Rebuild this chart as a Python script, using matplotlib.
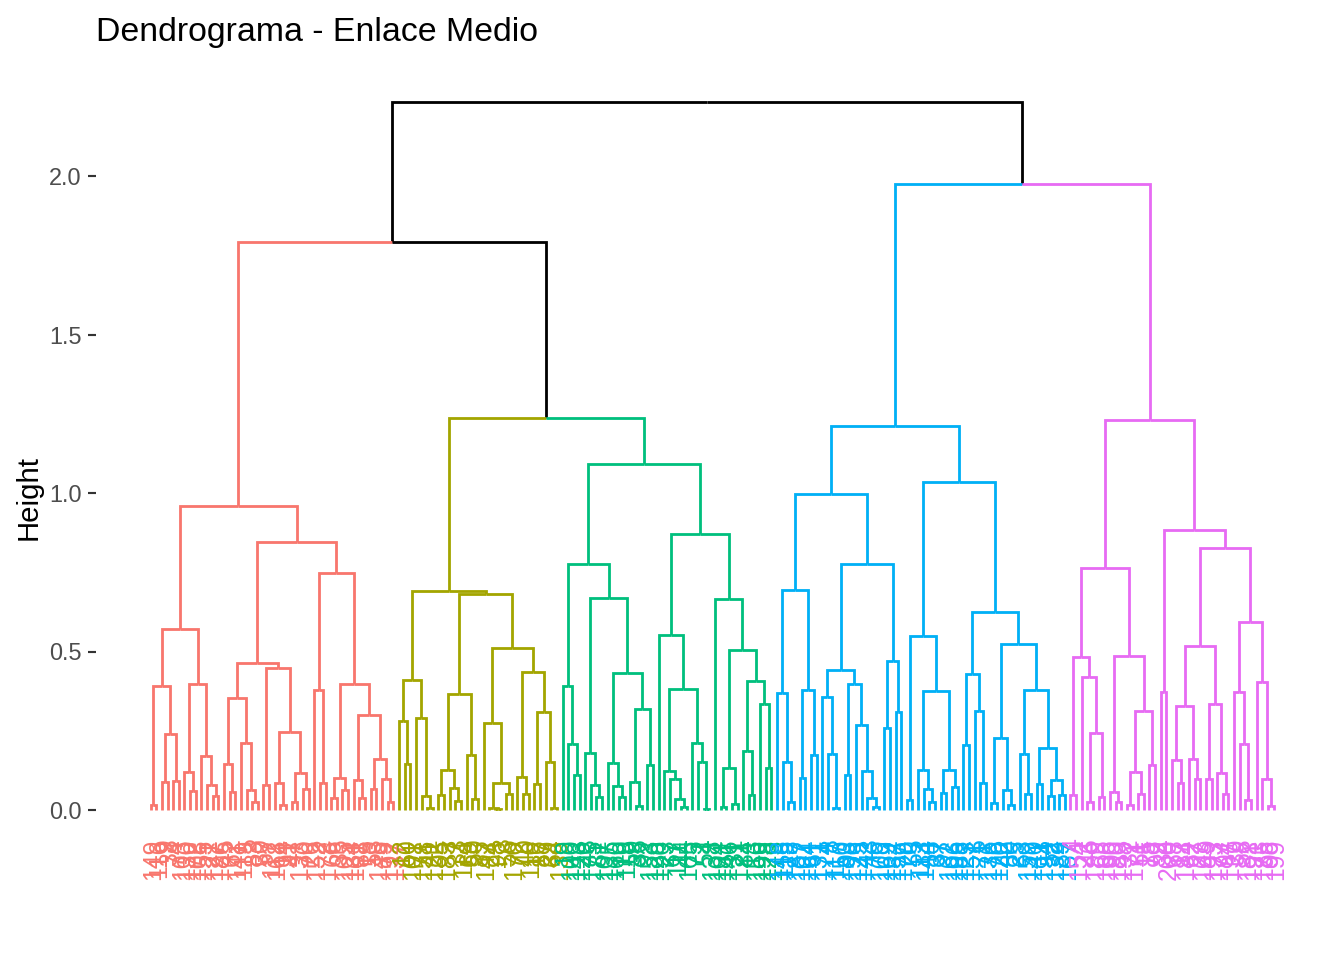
"""Dendrograma - Enlace Medio: alturas leídas del gráfico, etiquetas de hojas estimadas."""

import matplotlib.pyplot as plt

plt.rcParams['font.family'] = ['Liberation Sans', 'DejaVu Sans']

o = None  # una hoja

# Ramas de cada grupo: (altura, izquierda, derecha)
rojo_a = (.571,
          (.39, (.016, o, o), (.24, (.087, o, o), (.09, o, o))),
          (.396, (.119, o, (.059, o, o)), (.17, o, (.078, o, (.043, o, o)))))
rojo_b = (.463,
          (.352, (.144, o, (.056, o, o)), (.21, o, (.062, o, (.024, o, o)))),
          (.447, (.078, o, o), (.245, (.084, o, (.015, o, o)), (.116, (.024, o, o), (.065, o, o)))))
rojo_c = (.747,
          (.38, o, (.084, o, o)),
          (.396, (.10, (.037, o, o), (.062, o, o)),
           (.30, (.094, o, (.037, o, o)), (.16, (.065, o, o), (.097, o, (.024, o, o))))))
rojo = (.959, rojo_a, (.845, rojo_b, rojo_c))

oliva_a = (.41, (.282, o, (.144, o, o)), (.289, o, (.043, o, (.005, o, o))))
oliva_b = (.365, (.125, (.046, o, o), (.068, o, (.027, o, o))), (.172, o, (.034, o, o)))
oliva_c = (.51,
           (.273, o, (.084, (.005, o, (.002, o, o)), (.05, o, o))),
           (.434, (.103, o, (.05, o, o)), (.308, (.081, o, o), (.15, o, (.005, o, o)))))
oliva = (.692, oliva_a, (.682, oliva_b, oliva_c))

verde_a = (.39, o, (.207, o, (.109, o, o)))
verde_b = (.67,
           (.179, o, (.078, o, (.04, o, o))),
           (.431, (.147, o, (.075, o, (.04, o, o))), (.318, (.087, o, (.012, o, o)), (.141, o, o))))
verde_c = (.551, o,
           (.381, (.122, o, (.097, o, (.034, o, (.008, o, o)))), (.21, o, (.15, o, (.002, o, o)))))
verde_d = (.665, o,
           (.504, (.131, (.008, o, o), (.018, o, o)),
            (.406, (.185, o, (.046, o, o)), (.333, o, (.131, o, o)))))
verde = (1.092, (.776, verde_a, verde_b), (.871, verde_c, verde_d))

azul_a = (.694, (.368, o, (.15, o, (.024, o, o))), (.377, (.10, o, o), (.172, o, o)))
azul_b = (.441,
          (.358, o, (.176, o, (.005, o, o))),
          (.396, (.109, o, o), (.267, o, (.122, o, (.037, o, (.008, o, o))))))
azul_c = (.469, (.258, o, o), (.309, o, o))
azul_d = (.549, (.03, o, o),
          (.374, (.125, o, (.065, o, (.024, o, o))), (.125, (.053, o, o), (.071, o, o))))
azul_e = (.428, (.204, o, o), (.311, o, (.084, o, o)))
azul_f = (.523,
          (.226, (.021, o, o), (.062, o, (.015, o, o))),
          (.377, (.176, o, (.05, o, o)), (.195, (.081, o, o), (.094, (.043, o, o), (.046, o, o)))))
azul = (1.211, (.997, azul_a, (.776, azul_b, azul_c)), (1.035, azul_d, (.625, azul_e, azul_f)))

morado_a = (.482, (.046, o, o), (.42, o, (.242, (.024, o, o), (.04, o, o))))
morado_b = (.485, (.056, o, (.024, o, o)), (.311, (.119, (.015, o, o), (.05, o, o)), (.141, o, o)))
morado_c = (.371, o, o)
morado_d = (.516,
            (.327, (.157, o, (.084, o, o)), (.16, o, (.097, o, o))),
            (.333, (.097, o, o), (.116, o, (.05, o, o))))
morado_e = (.592, (.371, o, (.207, o, (.03, o, o))), (.403, o, (.097, o, (.012, o, o))))
morado = (1.23, (.763, morado_a, morado_b), (.883, morado_c, (.825, morado_d, morado_e)))

etiquetas_rojo = [149, 116, 9, 38, 74, 103, 130, 172, 108, 155, 21, 127, 186, 45, 62, 141, 119, 5, 83, 30, 57, 112,
                  168, 14, 91, 47, 133, 70, 26, 152, 2, 178, 66, 35, 105, 124, 161, 88, 18, 53, 145, 79, 192, 137]
etiquetas_oliva = [12, 60, 101, 77, 158, 41, 122, 95, 183, 7, 33, 114, 69, 50, 85, 147, 24, 98, 3, 56, 170, 72, 40,
                   110, 16, 87, 29, 64, 139]
etiquetas_verde = [19, 100, 143, 126, 48, 175, 81, 107, 135, 160, 10, 118, 59, 36, 92, 153, 129, 190, 23, 67, 111,
                   44, 165, 75, 1, 54, 138, 104, 181, 146, 31, 121, 84, 13, 156, 195, 128, 173]
etiquetas_azul = [148, 115, 28, 187, 102, 164, 61, 131, 174, 8, 117, 150, 93, 196, 125, 142, 43, 76, 109, 169, 134,
                  157, 179, 20, 55, 113, 144, 86, 37, 97, 162, 106, 188, 123, 151, 6, 71, 136, 176, 120, 42, 80, 25,
                  63, 159, 140, 11, 194, 52, 132, 89, 167]
etiquetas_morado = [4, 154, 22, 46, 189, 65, 166, 90, 180, 198, 32, 171, 51, 15, 78, 99, 34, 200, 68, 17, 184, 82,
                    27, 163, 49, 193, 177, 94, 197, 39, 58, 182, 191, 73, 185, 96, 199]

grupos = [(rojo, etiquetas_rojo, '#F8766D'),
          (oliva, etiquetas_oliva, '#A3A500'),
          (verde, etiquetas_verde, '#00BF7D'),
          (azul, etiquetas_azul, '#00B0F6'),
          (morado, etiquetas_morado, '#E76BF3')]

altura_raiz = 2.233
altura_izq = 1.792
altura_oliva_verde = 1.237
altura_der = 1.975

ANCHO, ALTO = 1344, 960
Y_MIN, Y_MAX = -0.395, 2.358

fig = plt.figure(figsize=(7, 5), dpi=192)
# panel colocado en píxeles: izquierda 96, derecha 1330, y=0 en 810, 317 px por unidad
ax = fig.add_axes([96 / ANCHO, (ALTO - 810 - 0.395 * 317) / ALTO, (1330 - 96) / ANCHO, (Y_MAX - Y_MIN) * 317 / ALTO])

hojas = []


def colocar(nodo, color, etiquetas):
    """Devuelve (x, altura, color, hijos) y numera las hojas de izquierda a derecha."""
    if nodo is None:
        x = len(hojas) + 1
        hojas.append((x, etiquetas[sum(1 for h in hojas if h[2] == color)], color))
        return (x, 0.0, color, [])
    izq = colocar(nodo[1], color, etiquetas)
    der = colocar(nodo[2], color, etiquetas)
    return ((izq[0] + der[0]) / 2, nodo[0], color, [izq, der])


def unir(altura, izq, der):
    # nodo por encima de los grupos: negro salvo sus dos tramos de grupo
    return ((izq[0] + der[0]) / 2, altura, 'black', [izq, der])


def dibujar(nodo):
    x, altura, _, hijos = nodo
    for hijo in hijos:
        ax.plot([x, hijo[0], hijo[0]], [altura, altura, hijo[1]], color=hijo[2], lw=1.05,
                solid_joinstyle='miter', solid_capstyle='butt', clip_on=False)
    for hijo in hijos:
        dibujar(hijo)


ramas = [colocar(g[0], g[2], g[1]) for g in grupos]
arbol = unir(altura_raiz,
             unir(altura_izq, ramas[0], unir(altura_oliva_verde, ramas[1], ramas[2])),
             unir(altura_der, ramas[3], ramas[4]))
dibujar(arbol)

for x, etiqueta, color in hojas:
    ax.text(x + 0.5, -0.09, str(etiqueta), rotation=90, ha='center', va='top', color=color, fontsize=9.3)

ax.set_xlim(-8.68, 209.99)
ax.set_ylim(Y_MIN, Y_MAX)
ax.set_xticks([])
ax.set_yticks([0, 0.5, 1.0, 1.5, 2.0], ['0.0', '0.5', '1.0', '1.5', '2.0'])
ax.tick_params(axis='y', length=3, width=0.8, color='#333333', labelcolor='#4D4D4D', labelsize=8.8, pad=2.5)
for lado in ax.spines.values():
    lado.set_visible(False)

fig.text(96 / ANCHO, 1 - 41 / ALTO, 'Dendrograma - Enlace Medio', fontsize=12.7, color='black', ha='left', va='baseline')
fig.text(28.5 / ANCHO, 1 - 497 / ALTO, 'Height', fontsize=11, color='black', rotation=90, ha='center', va='center')

fig.savefig('out.png', dpi=192)
